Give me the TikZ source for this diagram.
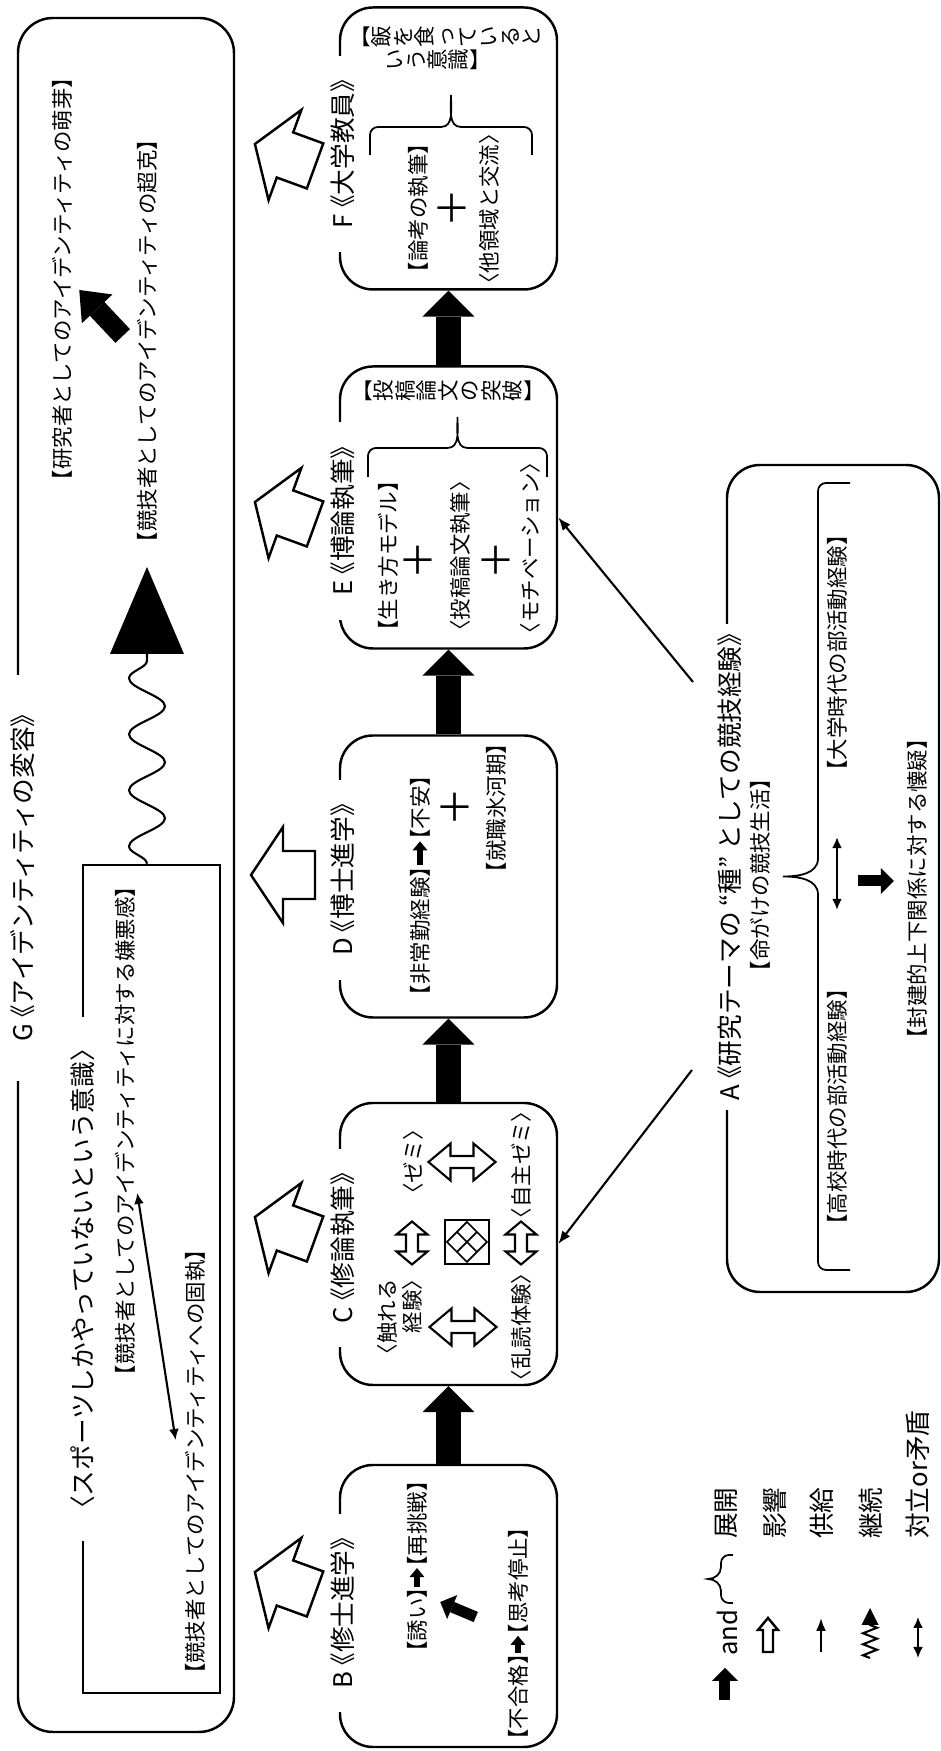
\documentclass[tikz,border=0pt]{standalone}
\usepackage{fontspec}
\setmainfont{Noto Sans CJK JP}[RawFeature=+halt]
\usetikzlibrary{arrows.meta,calc,decorations.pathmorphing}

\begin{document}
\begin{tikzpicture}[
    x=0.1mm, y=0.1mm, rotate=90, transform shape,
    line width=0.7pt,
    ttl/.style={font=\fontsize{7.3}{8.5}\selectfont, fill=white,
                inner xsep=2.4mm, inner ysep=0.3mm},
    txt/.style={font=\fontsize{6.1}{7.3}\selectfont, inner sep=0.3mm},
    tate/.style={txt, align=center, font=\fontsize{6.1}{6.1}\selectfont},
    keytxt/.style={font=\fontsize{7.3}{8.5}\selectfont, anchor=west, inner sep=0pt},
    plussign/.style={font=\fontsize{11}{11}\selectfont, inner sep=0pt},
    gframe/.style={draw, inner sep=0pt, rounded corners=3.5mm},
    stage/.style={draw, inner sep=0pt, rounded corners=3.3mm,
                  minimum width=28.2mm, minimum height=21.7mm},
    andbig/.style={line width=2.5mm,
                   -{Triangle[length=2.6mm, width=5.2mm, line width=0pt]}},
    andmid/.style={line width=1.1mm,
                   -{Triangle[length=1.3mm, width=2.6mm, line width=0pt]}},
    andsmall/.style={line width=0.6mm,
                     -{Triangle[length=0.9mm, width=1.5mm, line width=0pt]},
                     shorten <=-0.3mm, shorten >=-0.3mm},
    feed/.style={line width=0.6pt, -{Latex[length=1.3mm, width=1mm]}},
    clash/.style={line width=0.6pt,
                  {Latex[length=1.1mm, width=1mm]}-{Latex[length=1.1mm, width=1mm]}},
    pics/flatbrace/.style n args={4}{code={
        \draw[line width=0.5pt] (-#1,0) -- (-#1,#2-8) to[out=90, in=180] (-#1+8,#2)
          -- (-#4,#2) to[out=0, in=-90] (0,#2+#3) to[out=-90, in=180] (#4,#2)
          -- (#1-8,#2) to[out=0, in=90] (#1,#2-8) -- (#1,0);}},
    pics/hollow/.style n args={4}{code={
        \draw (#1,0) -- (#2,#3) -- (#2,#4) -- (-#1,#4) -- (-#1,-#4)
          -- (#2,-#4) -- (#2,-#3) -- cycle;}},
    pics/dhollow/.style n args={4}{code={
        \draw[line width=0.6pt] (-#1,0) -- (-#2,#3) -- (-#2,#4) -- (#2,#4)
          -- (#2,#3) -- (#1,0) -- (#2,-#3) -- (#2,-#4) -- (-#2,-#4)
          -- (-#2,-#3) -- cycle;}},
  ]
  \useasboundingbox (0,0) rectangle (1751,941);

  % G: the frame across the top
  \node[gframe, minimum width=171.4mm, minimum height=21.6mm] (identity) at (876,815) {};
  \node[draw, inner sep=0pt, minimum width=82.8mm, minimum height=13.7mm] (cling) at (472,789.5) {};
  \node[ttl, inner xsep=4mm] (identityT) at (873,918) {G 《アイデンティティの変容》};
  \node[ttl, inner xsep=3.2mm] (clingT) at (472,858) {〈スポーツしかやっていないという意識〉};
  \node[txt] (aversion) at (620,816) {【競技者としてのアイデンティティに対する嫌悪感】};
  \node[txt] (fixation) at (289,746) {【競技者としてのアイデンティティへの固執】};
  \node[txt] (sprout) at (1472,879) {【研究者としてのアイデンティティの萌芽】};
  \node[txt] (overcome) at (1410,794) {【競技者としてのアイデンティティの超克】};
  \coordinate (contEnd) at (1097,794);
  \draw[clash] ($(aversion.south)+(-62,2)$) -- ($(fixation.north)+(22,5)$);
  \draw[line width=0.6pt, decorate, decoration={snake, amplitude=1.8mm, segment length=5.6mm}]
    (cling.east |- contEnd) -- (contEnd);
  \fill ($(contEnd)+(0,37)$) -- ($(contEnd)+(87,0)$) -- ($(contEnd)+(0,-37)$) -- cycle;
  \draw[andbig, line width=2mm, -{Triangle[length=2.6mm, width=4.2mm, line width=0pt]}]
    ($(overcome.north)+(5,10)$) -- ($(sprout.south)+(-11,-3)$);

  % B to F: the stages
  \node[stage] (msc) at (145,492.5) {};
  \node[stage] (thesis) at (507,492.5) {};
  \node[stage] (phd) at (874.5,492.5) {};
  \node[stage] (diss) at (1243.5,492.5) {};
  \node[stage] (faculty) at (1602.5,492.5) {};
  \node[ttl] (mscT) at (138,598) {B 《修士進学》};
  \node[ttl] (thesisT) at (503,598) {C 《修論執筆》};
  \node[ttl] (phdT) at (871,598) {D 《博士進学》};
  \node[ttl] (dissT) at (1230,598) {E 《博論執筆》};
  \node[ttl] (facultyT) at (1597,598) {F 《大学教員》};
  \draw[andbig] (msc) -- (thesis);
  \draw[andbig] (thesis) -- (phd);
  \draw[andbig] (phd) -- (diss);
  \draw[andbig] (diss) -- (faculty);
  \pic[rotate=70] at (168,656) {hollow={32}{0}{48}{24}};
  \pic[rotate=70] at (523,656) {hollow={32}{0}{48}{24}};
  \pic[rotate=90] at (876,658) {hollow={32}{0}{48}{24}};
  \pic[rotate=70] at (1238,656) {hollow={32}{0}{48}{24}};
  \pic[rotate=70] at (1596,656) {hollow={32}{0}{48}{24}};

  % B
  \node[txt] (invite) at (131,524) {【誘い】};
  \node[txt] (retry) at (227,524) {【再挑戦】};
  \node[txt] (fail) at (54,423) {【不合格】};
  \node[txt] (stall) at (170,423) {【思考停止】};
  \draw[andsmall] (invite) -- (retry);
  \draw[andsmall] (fail) -- (stall);
  \draw[andmid] ($(stall.north)+(-36,28)$) -- ($(invite.south)+(18,-9)$);

  % C
  \node[txt, align=right] (touch) at (434,541) {〈触れる\\経験〉};
  \node[txt] (seminar) at (589,528) {〈ゼミ〉};
  \node[txt] (reading) at (424,420) {〈乱読体験〉};
  \node[txt] (selfSem) at (586,420) {〈自主ゼミ〉};
  \node[draw, line width=0.6pt, inner sep=0pt, minimum size=4.4mm] (mesh) at (509,474) {};
  \draw[line width=0.5pt] (mesh.center) -- ++(10,10) -- ++(10,-10) -- ++(-10,-10) -- cycle
    (mesh.center) -- ++(10,10) -- ++(-10,10) -- ++(-10,-10) -- cycle
    (mesh.center) -- ++(-10,10) -- ++(-10,-10) -- ++(10,-10) -- cycle
    (mesh.center) -- ++(10,-10) -- ++(-10,-10) -- ++(-10,10) -- cycle;
  \pic[rotate=90] at (424,478) {dhollow={33.5}{11.5}{18.5}{6}};
  \pic[rotate=90] at (589,479) {dhollow={33.5}{11.5}{18.5}{6}};
  \pic at (508,529) {dhollow={21.5}{8.5}{15.5}{6}};
  \pic at (508,420) {dhollow={21.5}{8.5}{15.5}{6}};

  % D
  \node[txt] (parttime) at (820,521) {【非常勤経験】};
  \node[txt] (anxiety) at (943,521) {【不安】};
  \node[plussign] (dPlus) at (944,486) {＋};
  \node[txt] (iceAge) at (943,445) {【就職氷河期】};
  \draw[andsmall] (parttime) -- (anxiety);

  % E
  \node[txt] (model) at (1195,553) {【生き方モデル】};
  \node[plussign] (ePlusA) at (1191,523) {＋};
  \node[txt] (paper) at (1195,481) {〈投稿論文執筆〉};
  \node[plussign] (ePlusB) at (1191,445) {＋};
  \node[txt] (motiv) at (1203,411) {〈モチベーション〉};
  \pic[rotate=-90] at (1274,483.5) {flatbrace={89.5}{29}{31}{10}};
  \node[tate] (breakthru) at (1360,487) {︻\\投\\稿\\論\\文\\の\\突\\破\\︼};

  % F
  \node[txt] (essay) at (1543,523) {【論考の執筆】};
  \node[plussign] (fPlus) at (1543,489) {＋};
  \node[txt] (exchange) at (1542,452) {〈他領域と交流〉};
  \pic[rotate=-90] at (1596,490) {flatbrace={81}{28}{32}{10}};
  \node[tate] (mealA) at (1714,489) {︻\\飯\\を\\食\\っ\\て\\い\\る\\と};
  \node[tate] (mealB) at (1691,503) {い\\う\\意\\識\\︼};

  % A: the seed
  \node[gframe, rounded corners=3.3mm, minimum width=82.7mm, minimum height=21.2mm] (seed) at (872.5,108) {};
  \node[ttl, inner xsep=1mm] (seedT) at (884,211) {A 《研究テーマの “種” としての競技経験》};
  \node[txt] (lifeRisk) at (876,181) {【命がけの競技生活】};
  \pic at (874.5,91) {flatbrace={393.5}{32}{35}{18}};
  \node[txt] (highSchool) at (644,104) {【高校時代の部活動経験】};
  \node[txt] (college) at (1098,104) {【大学時代の部活動経験】};
  \node[txt] (doubt) at (862,24) {【封建的上下関係に対する懐疑】};
  \draw[clash, shorten <=7.5mm, shorten >=6.2mm] (highSchool) -- (college);
  \draw[andmid] ($(doubt.north)+(8,45)$) -- ($(doubt.north)+(8,9)$);
  \coordinate (seedToC) at (681,249);
  \coordinate (seedToE) at (1069,248);
  \draw[feed] (seedToC) -- (thesis.south);
  \draw[feed] (seedToE) -- ($(diss.south)+(-10,0)$);

  % key
  \coordinate (keyAnd) at (51,216);
  \coordinate (keyFeed) at (99,120);
  \coordinate (keyCont) at (93,71);
  \coordinate (keyClash) at (93,23);
  \draw[andmid] (keyAnd) -- ++(32,0);
  \node[keytxt] (keyAndT) at (94,214) {and};
  \pic at (172,208) {flatbrace={24}{12}{13}{12}};
  \node[keytxt] (keyExpandT) at (211,215) {展開};
  \pic at (116,173) {hollow={17}{5}{10}{5}};
  \node[keytxt] (keyInflT) at (211,166) {影響};
  \draw[feed] (keyFeed) -- ++(34,0);
  \node[keytxt] (keyFeedT) at (211,119) {供給};
  \draw[line width=0.6pt, decorate, decoration={zigzag, amplitude=0.7mm, segment length=1.1mm}]
    (keyCont) -- ++(33,0);
  \fill ($(keyCont)+(33,8.5)$) -- ($(keyCont)+(50,0)$) -- ($(keyCont)+(33,-8.5)$) -- cycle;
  \node[keytxt] (keyContT) at (211,70) {継続};
  \draw[clash] (keyClash) -- ++(41,0);
  \node[keytxt] (keyClashT) at (211,23) {対立or矛盾};
\end{tikzpicture}
\end{document}
